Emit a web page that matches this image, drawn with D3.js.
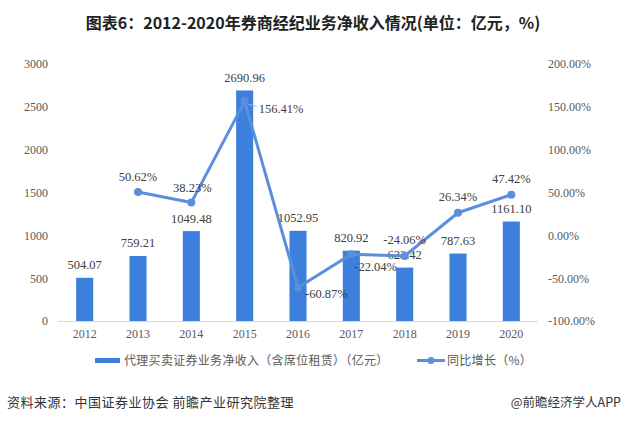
<!DOCTYPE html>
<html><head><meta charset="utf-8">
<script src="https://cdn.jsdelivr.net/npm/d3@7"></script>
<style>
html,body{margin:0;padding:0;background:#fff;}
svg{display:block;}
</style>
</head><body>
<svg id="c" width="622" height="424"></svg>
<script>
const years = ["2012","2013","2014","2015","2016","2017","2018","2019","2020"];
const revenue = [504.07, 759.21, 1049.48, 2690.96, 1052.95, 820.92, 623.42, 787.63, 1161.10];
const growth = [null, 50.62, 38.23, 156.41, -60.87, -22.04, -24.06, 26.34, 47.42];
const leftTicks = [0, 500, 1000, 1500, 2000, 2500, 3000];
const rightTicks = [-100, -50, 0, 50, 100, 150, 200];
const titleText = "图表6：2012-2020年券商经纪业务净收入情况(单位：亿元，%)";
const legendBar = "代理买卖证券业务净收入（含席位租赁）（亿元）";
const legendLine = "同比增长（%）";
const sourceText = "资料来源：中国证券业协会 前瞻产业研究院整理";
const brandText = "@前瞻经济学人APP";

const svg = d3.select("#c");
const serif = "'Liberation Serif','Times New Roman',serif";
const cjk = "'Noto Sans CJK SC','Microsoft YaHei',sans-serif";
const barColor = "#3d7fdc";
const lineColor = "#5b8edb";

const x = d3.scaleBand().domain(years).range([58, 538]).paddingInner(0.68).paddingOuter(0.34);
const yL = d3.scaleLinear().domain([0, 3000]).range([321, 64]);
const yR = d3.scaleLinear().domain([-100, 200]).range([321, 64]);

// title
svg.append("text").attr("x", 313).attr("y", 29).attr("text-anchor", "middle")
  .attr("font-family", cjk).attr("font-weight", "bold").attr("font-size", 16)
  .attr("fill", "#222").text(titleText);

// left axis
const axL = d3.axisLeft(yL).tickValues(leftTicks).tickSize(0).tickPadding(10).tickFormat(d3.format("d"));
const gL = svg.append("g").attr("transform", "translate(58,0)").call(axL);
gL.select(".domain").remove();
gL.selectAll("text").attr("font-family", serif).attr("font-size", 12).attr("fill", "#595959");

// right axis
const axR = d3.axisRight(yR).tickValues(rightTicks).tickSize(0).tickPadding(10).tickFormat(d => d.toFixed(2) + "%");
const gR = svg.append("g").attr("transform", "translate(538,0)").call(axR);
gR.select(".domain").remove();
gR.selectAll("text").attr("font-family", serif).attr("font-size", 12).attr("fill", "#595959");

// bottom axis
const axB = d3.axisBottom(x).tickSize(0).tickPadding(8);
const gB = svg.append("g").attr("transform", "translate(0,321)").call(axB);
gB.select(".domain").attr("stroke", "#d9d9d9").attr("d", "M58,0.5H538");
gB.selectAll("text").attr("font-family", serif).attr("font-size", 12).attr("fill", "#595959");

// bars
svg.append("g").selectAll("rect").data(years).join("rect")
  .attr("x", d => x(d)).attr("width", x.bandwidth())
  .attr("y", (d, i) => yL(revenue[i])).attr("height", (d, i) => yL(0) - yL(revenue[i]))
  .attr("fill", barColor);

// bar labels
svg.append("g").selectAll("text").data(years).join("text")
  .attr("x", d => x(d) + x.bandwidth() / 2)
  .attr("y", (d, i) => yL(revenue[i]) - 8.5)
  .attr("text-anchor", "middle").attr("font-family", serif).attr("font-size", 12.5)
  .attr("fill", "#404040").text((d, i) => revenue[i].toFixed(2));

// line
const pts = years.map((d, i) => ({ year: d, v: growth[i] })).filter(p => p.v !== null);
const cx = p => x(p.year) + x.bandwidth() / 2;
svg.append("path").datum(pts)
  .attr("d", d3.line().x(cx).y(p => yR(p.v)))
  .attr("fill", "none").attr("stroke", lineColor).attr("stroke-width", 3).attr("stroke-linejoin", "round");
svg.append("g").selectAll("circle").data(pts).join("circle")
  .attr("cx", cx).attr("cy", p => yR(p.v)).attr("r", 4).attr("fill", lineColor);

// growth labels placement (offsets from point)
const place = {
  "2013": { dx: 0, dy: -15, a: "middle" },
  "2014": { dx: 1, dy: -15, a: "middle" },
  "2015": { dx: 14, dy: 7, a: "start" },
  "2016": { dx: 7, dy: 6, a: "start" },
  "2017": { dx: 3, dy: 12, a: "start" },
  "2018": { dx: 0, dy: -16, a: "middle" },
  "2019": { dx: 0, dy: -16, a: "middle" },
  "2020": { dx: 0, dy: -16, a: "middle" }
};
svg.append("g").selectAll("text").data(pts).join("text")
  .attr("x", p => cx(p) + place[p.year].dx)
  .attr("y", p => yR(p.v) + place[p.year].dy + 4.5)
  .attr("text-anchor", p => place[p.year].a)
  .attr("font-family", serif).attr("font-size", 12.5).attr("fill", "#404040")
  .text(p => p.v.toFixed(2) + "%");
// leader line for 2015
const p15 = pts.find(p => p.year === "2015");
svg.append("line").attr("x1", cx(p15) + 4).attr("y1", yR(p15.v) + 3)
  .attr("x2", cx(p15) + 12).attr("y2", yR(p15.v) + 5)
  .attr("stroke", "#9bb5df").attr("stroke-width", 1);

// legend
const lg = svg.append("g").attr("font-family", cjk).attr("font-size", 12).attr("fill", "#595959");
lg.append("rect").attr("x", 95).attr("y", 358).attr("width", 25).attr("height", 5).attr("fill", barColor);
lg.append("text").attr("x", 124).attr("y", 365).attr("letter-spacing", 0.3).text(legendBar);
lg.append("line").attr("x1", 417).attr("x2", 445).attr("y1", 360.5).attr("y2", 360.5)
  .attr("stroke", lineColor).attr("stroke-width", 3);
lg.append("circle").attr("cx", 431).attr("cy", 360.5).attr("r", 3.5).attr("fill", lineColor);
lg.append("text").attr("x", 447).attr("y", 365).attr("letter-spacing", 0.3).text(legendLine);

// footer
svg.append("text").attr("x", 7).attr("y", 407).attr("font-family", cjk).attr("font-size", 13)
  .attr("letter-spacing", 0.5).attr("fill", "#333").text(sourceText);
svg.append("text").attr("x", 621).attr("y", 407).attr("text-anchor", "end").attr("font-family", cjk)
  .attr("font-size", 12.5).attr("fill", "#333").text(brandText);
</script>
</body></html>
